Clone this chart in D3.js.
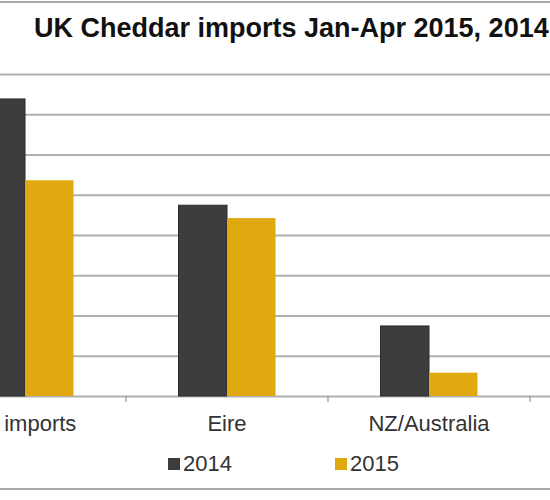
<!DOCTYPE html>
<html>
<head>
<meta charset="utf-8">
<script src="https://cdn.jsdelivr.net/npm/d3@7"></script>
<style>
  body { margin: 0; background: #fff; }
  text { font-family: "Liberation Sans", Arial, sans-serif; }
</style>
</head>
<body>
<div id="chart-area"></div>
<script>
// data (thousand tonnes)
const categories = ["All imports", "Eire", "NZ/Australia"]
const years = ["2014", "2015"]
const values2014 = [36.9, 23.7, 8.7]
const values2015 = [26.8, 22.1, 2.9]
const yTicks = [0, 5, 10, 15, 20, 25, 30, 35, 40]

const colors = { "2014": "#3d3d3d", "2015": "#e0a910" }

const WIDTH = 550
const HEIGHT = 500

const svg = d3.select("#chart-area").append("svg")
  .attr("width", WIDTH)
  .attr("height", HEIGHT)

// frame lines
svg.append("line")
  .attr("x1", 0).attr("x2", WIDTH)
  .attr("y1", 2).attr("y2", 2)
  .attr("stroke", "#a8a8a8").attr("stroke-width", 2)
svg.append("line")
  .attr("x1", 0).attr("x2", WIDTH)
  .attr("y1", 489).attr("y2", 489)
  .attr("stroke", "#a8a8a8").attr("stroke-width", 2)

// title
svg.append("text")
  .attr("x", 34)
  .attr("y", 37)
  .attr("font-size", "27px")
  .attr("font-weight", "bold")
  .attr("fill", "#111")
  .text("UK Cheddar imports Jan-Apr 2015, 2014")

const x = d3.scaleBand()
  .domain(categories)
  .range([-76, 530])
  .padding(0)

const x1 = d3.scaleBand()
  .domain(years)
  .range([0, 97])

const groupOffset = (x.bandwidth() - 97) / 2

const y = d3.scaleLinear()
  .domain([0, 40])
  .range([396, 74])

// gridlines
const yAxisCall = d3.axisLeft(y)
  .tickValues(yTicks)
  .tickSize(-WIDTH)
  .tickFormat("")
const gy = svg.append("g")
  .attr("class", "y axis")
  .call(yAxisCall)
gy.select(".domain").remove()
gy.selectAll(".tick line")
  .attr("stroke", "#b0b0b0")
  .attr("stroke-width", 1.8)

// bars
const rows = categories.map((c, i) => ({ cat: c, "2014": values2014[i], "2015": values2015[i] }))

const groups = svg.selectAll("g.cat")
  .data(rows)
  .enter().append("g")
  .attr("class", "cat")
  .attr("transform", d => `translate(${x(d.cat) + groupOffset}, 0)`)

groups.selectAll("rect")
  .data(d => years.map(yr => ({ yr: yr, v: d[yr] })))
  .enter().append("rect")
  .attr("x", d => x1(d.yr))
  .attr("y", d => y(d.v))
  .attr("width", x1.bandwidth())
  .attr("height", d => y(0) - y(d.v))
  .attr("fill", d => colors[d.yr])
  .attr("stroke", d => d.yr === "2014" ? "#2a2a2a" : "none")
  .attr("stroke-width", 1)

// x axis
const xAxisCall = d3.axisBottom(x).tickSize(0).tickPadding(0)
const gx = svg.append("g")
  .attr("class", "x axis")
  .attr("transform", "translate(0, 396)")
  .call(xAxisCall)
gx.select(".domain").remove()
gx.selectAll("text")
  .attr("y", 35)
  .attr("dy", 0)
  .attr("font-size", "22px")
  .attr("fill", "#333")
  .attr("font-family", "Liberation Sans, Arial, sans-serif")

// tick marks between categories
gx.selectAll(".sep")
  .data(categories)
  .enter().append("line")
  .attr("class", "sep")
  .attr("x1", d => x(d) + x.bandwidth())
  .attr("x2", d => x(d) + x.bandwidth())
  .attr("y1", 0)
  .attr("y2", 6)
  .attr("stroke", "#999")
  .attr("stroke-width", 1.2)

// legend
const legendX = { "2014": 168, "2015": 335 }
const legend = svg.selectAll("g.legend")
  .data(years)
  .enter().append("g")
  .attr("class", "legend")
  .attr("transform", d => `translate(${legendX[d]}, 458)`)

legend.append("rect")
  .attr("width", 12)
  .attr("height", 12)
  .attr("fill", d => colors[d])

legend.append("text")
  .attr("x", 15)
  .attr("y", 13)
  .attr("font-size", "22px")
  .attr("fill", "#333")
  .text(d => d)
</script>
</body>
</html>
